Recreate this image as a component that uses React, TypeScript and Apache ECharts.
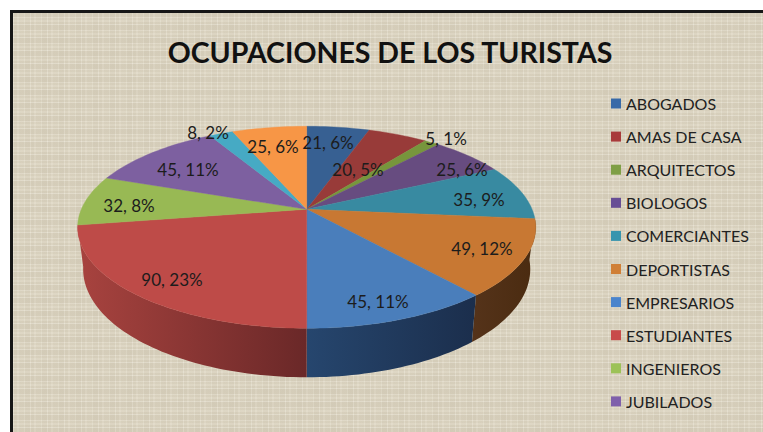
import React, { useEffect, useRef } from "react";
import * as echarts from "echarts";

const titleText = "OCUPACIONES DE LOS TURISTAS";
const sliceNames = ["ABOGADOS", "AMAS DE CASA", "ARQUITECTOS", "BIOLOGOS", "COMERCIANTES", "DEPORTISTAS", "EMPRESARIOS", "ESTUDIANTES", "INGENIEROS", "JUBILADOS", "OTROS 1", "OTROS 2"];
const legendNames = sliceNames.slice(0, 10);
const values = [21, 20, 5, 25, 35, 49, 45, 90, 32, 45, 8, 25];
const percentLabels = ["6%", "5%", "1%", "6%", "9%", "12%", "11%", "23%", "8%", "11%", "2%", "6%"];

const faceColors = ["#376092", "#983b39", "#77963c", "#674c80", "#388aa1", "#c87833", "#4a7ebb", "#be4b48", "#98b954", "#7d60a0", "#46aac4", "#f79646"];
const legendColors = ["#386aa8", "#a83a3a", "#7f9f45", "#674e95", "#3795ae", "#d07f36", "#4a84cc", "#c84b4b", "#9cc257", "#7f60ab", "#46aac4", "#f79646"];
const wallLeft: Record<number, string> = { 5: "#55331a", 6: "#26466e", 7: "#a8433f" };
const wallRight: Record<number, string> = { 5: "#4a2b10", 6: "#1b2e4c", 7: "#6a2828" };
// label centres, in page pixels
const labelCentres = [[328, 142], [358, 169], [446, 138], [462, 169], [479, 199], [482, 248], [378, 301], [172, 279], [129, 205], [188, 169], [208, 132], [273, 146]];

const CX = 306.7;
const CY = 209.3;
const A = 225.4;
const B = 97.8;
const K = 0.178;
const total = values.reduce((s, v) => s + v, 0);

function rim(theta: number) {
  const u = Math.sin(theta);
  const v = -Math.cos(theta);
  const d = 1 - K * v;
  return [(A * u) / d, (B * v) / d];
}
const topPt = (t: number) => {
  const p = rim(t);
  return [CX + p[0], CY + p[1]];
};
const bottomPt = (t: number) => {
  const p = rim(t);
  return [CX + p[0] * 0.976, CY + p[1] * 1.07 + 40.7];
};

export default function App() {
  const ref = useRef<HTMLDivElement>(null);
  useEffect(() => {
    const chart = echarts.init(ref.current!, undefined, { renderer: "svg" });
    let cum = 0;
    const series = values.map((val, i) => {
      const a0 = (cum / total) * Math.PI * 2;
      cum += val;
      const a1 = (cum / total) * Math.PI * 2;
      return {
        type: "custom",
        name: sliceNames[i],
        coordinateSystem: "none",
        itemStyle: { color: legendColors[i] },
        data: [[val]],
        renderItem: () => {
          const steps = Math.max(4, Math.ceil((a1 - a0) * 40));
          const ts: number[] = [];
          for (let s = 0; s <= steps; s++) ts.push(a0 + ((a1 - a0) * s) / steps);
          const top = ts.map(topPt);
          const bot = ts.map(bottomPt);
          const children: any[] = [];
          if (wallLeft[i]) {
            children.push({
              type: "polygon",
              z2: 1,
              shape: { points: top.concat(bot.slice().reverse()) },
              style: {
                fill: new echarts.graphic.LinearGradient(0, 0, 1, 0, [
                  { offset: 0, color: wallLeft[i] },
                  { offset: 1, color: wallRight[i] },
                ]),
              },
              silent: true,
            });
          }
          children.push({
            type: "polygon",
            z2: 5,
            shape: { points: [[CX, CY]].concat(top) },
            style: { fill: faceColors[i], stroke: faceColors[i], lineWidth: 0.4 },
            silent: true,
          });
          children.push({
            type: "text",
            z2: 10,
            x: labelCentres[i][0],
            y: labelCentres[i][1],
            style: {
              text: `${val}, ${percentLabels[i]}`,
              align: "center",
              verticalAlign: "middle",
              fontFamily: "Lato",
              fontSize: 17,
              fill: "#1c1c1c",
            },
            silent: true,
          });
          return { type: "group", children };
        },
      };
    });
    chart.setOption({
      animation: false,
      backgroundColor: "transparent",
      title: {
        text: titleText,
        left: 385,
        top: 32,
        textAlign: "center",
        textStyle: { fontFamily: "Lato", fontWeight: "bold", fontSize: 28.5, color: "#111111" },
      },
      legend: {
        data: legendNames,
        orient: "vertical",
        left: 606,
        top: 90.5,
        icon: "rect",
        itemWidth: 10,
        itemHeight: 10,
        itemGap: 17.1,
        selectedMode: false,
        textStyle: { fontFamily: "Lato", fontSize: 16, lineHeight: 16, color: "#222222" },
      },
      series,
    });
    return () => chart.dispose();
  }, []);

  const texture = [
    "repeating-linear-gradient(0deg, rgba(255,255,255,0.14) 0 1px, rgba(120,105,80,0.05) 1px 3px, rgba(255,255,255,0.05) 3px 5px, rgba(120,105,80,0.04) 5px 7px, rgba(255,255,255,0.10) 7px 8px, rgba(120,105,80,0.07) 8px 13px)",
    "repeating-linear-gradient(90deg, rgba(255,255,255,0.13) 0 1px, rgba(120,105,80,0.05) 1px 4px, rgba(255,255,255,0.04) 4px 6px, rgba(120,105,80,0.04) 6px 11px, rgba(255,255,255,0.08) 11px 12px, rgba(120,105,80,0.06) 12px 17px)",
  ].join(",");

  return (
    <div style={{ position: "absolute", left: 0, top: 0, width: 763, height: 432, overflow: "hidden", background: "#fff" }}>
      <div
        style={{
          position: "absolute",
          left: 10,
          top: 10,
          width: 800,
          height: 460,
          boxSizing: "border-box",
          border: "3px solid #161616",
          backgroundColor: "#e0d9c6",
          backgroundImage: texture,
        }}
      />
      <div ref={ref} style={{ position: "absolute", left: 0, top: 0, width: 763, height: 432 }} />
    </div>
  );
}
